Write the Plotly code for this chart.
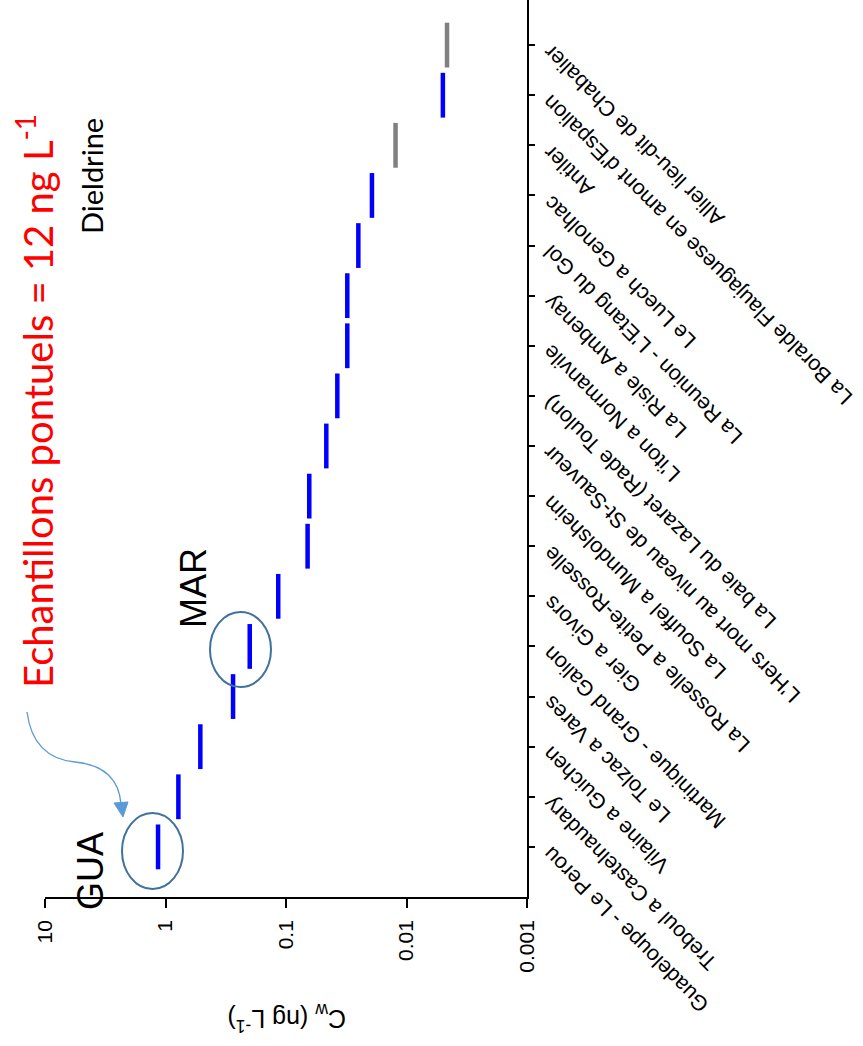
import plotly.graph_objects as go

# ---------------- data ----------------
categories = [
    "Guadeloupe - Le Perou",
    "Treboul a Castelnaudary",
    "Vilaine a Guichen",
    "Le Tolzac a Vares",
    "Martinique - Grand Galion",
    "Gier a Givors",
    "La Rosselle a Petite-Rosselle",
    "La Souffel a Mundolsheim",
    "L'Hers mort au niveau de St-Sauveur",
    "La baie du Lazaret (Rade Toulon)",
    "L'iton a Normanvile",
    "La Risle a Ambenay",
    "La Reunion - L'Etang du Gol",
    "Le Luech a Genolhac",
    "Antiler",
    "La Boralde Flaujaguese en amont d'Espalion",
    "Allier lieu-dit de Chabalier",
]
cw_values = [1.153, 0.782, 0.514, 0.275, 0.200, 0.116, 0.0662, 0.0641, 0.0463,
             0.0375, 0.0310, 0.0310, 0.0251, 0.01935, 0.01233, 0.00499, 0.00461]
point_colors = ["#0000FF"] * 14 + ["#808080", "#0000FF", "#808080"]

x_tickvals = [10, 1, 0.1, 0.01, 0.001]
x_ticktext = ["10", "1", "0.1", "0.01", "0.001"]

# ---------------- layout helpers ----------------
W, H = 863, 1046
ML, MR, MT, MB = 45, 336, 0, 149
PW, PH = W - ML - MR, H - MT - MB


def px(x):
    return (x - ML) / PW


def py(y):
    return (MT + PH - y) / PH


idx = list(range(len(categories)))

fig = go.Figure()
fig.add_trace(go.Scatter(
    x=cw_values, y=idx, mode="markers",
    marker=dict(symbol="line-ns", size=32,
                line=dict(width=4.5, color=point_colors)),
    showlegend=False, hoverinfo="x+text", text=categories,
))

annotations = []
for i, lab in enumerate(categories):
    annotations.append(dict(
        text=lab, x=1, xref="paper", y=i, yref="y",
        xanchor="left", yanchor="top", xshift=9, yshift=8,
        textangle=-135, showarrow=False,
        font=dict(family="Liberation Sans, Arial", size=21.5, color="black"),
    ))


def label(text, x, y, angle, family, size, color="black"):
    return dict(text=text, x=px(x), y=py(y), xref="paper", yref="paper",
                xanchor="center", yanchor="middle", showarrow=False,
                textangle=angle, font=dict(family=family, size=size, color=color))


annotations += [
    label("C<sub>w</sub> (ng L<sup>-1</sup>)", 287, 1018, 180, "Liberation Sans, Arial", 25),
    label("Echantillons pontuels = 12 ng L<sup>-1</sup>", 35, 401, -90, "Lato", 40, "#FF0000"),
    label("Dieldrine", 91, 176, -90, "Lato", 29),
    label("MAR", 193, 588, -90, "Liberation Sans, Arial", 36),
    label("GUA", 90, 871, -90, "Liberation Sans, Arial", 36),
]

ell_color = "#41719C"
shapes = [
    dict(type="circle", xref="paper", yref="paper",
         x0=px(122), x1=px(183), y0=py(889), y1=py(813),
         line=dict(color=ell_color, width=2)),
    dict(type="circle", xref="paper", yref="paper",
         x0=px(210), x1=px(271), y0=py(687), y1=py(612),
         line=dict(color=ell_color, width=2)),
]


def P(x, y):
    return f"{px(x):.5f},{py(y):.5f}"


arrow_path = f"M {P(27,712)} Q {P(33,758)} {P(75,762)} Q {P(118,766)} {P(121,804)}"
shapes.append(dict(type="path", xref="paper", yref="paper", path=arrow_path,
                   line=dict(color="#5B9BD5", width=1.3)))
head_path = f"M {P(114,803)} L {P(128,802)} L {P(123,817)} Z"
shapes.append(dict(type="path", xref="paper", yref="paper", path=head_path,
                   line=dict(color="#5B9BD5", width=1), fillcolor="#5B9BD5"))

fig.update_layout(
    width=W, height=H,
    margin=dict(l=ML, r=MR, t=MT, b=MB, pad=0),
    plot_bgcolor="white", paper_bgcolor="white",
    xaxis=dict(type="log", range=[1, -3], autorange=False,
               tickvals=x_tickvals, ticktext=x_ticktext, tickangle=-90,
               ticks="outside", ticklen=9, tickwidth=1.5, tickcolor="black",
               showline=True, linecolor="black", linewidth=1.5,
               showgrid=False, zeroline=False, ticklabelstandoff=4,
               tickfont=dict(family="Liberation Sans, Arial", size=21, color="black")),
    yaxis=dict(range=[-1.0, 16.9], autorange=False, side="right",
               tickvals=idx, showticklabels=False,
               ticks="outside", ticklen=6, tickwidth=1.5, tickcolor="black",
               showline=True, linecolor="black", linewidth=1.5,
               showgrid=False, zeroline=False),
    annotations=annotations,
    shapes=shapes,
)

fig.write_html("out.html")
